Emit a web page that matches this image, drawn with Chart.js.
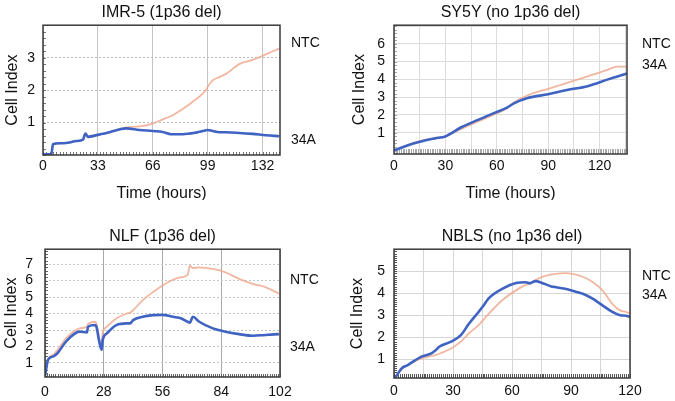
<!DOCTYPE html>
<html>
<head>
<meta charset="utf-8">
<script src="https://cdn.jsdelivr.net/npm/chart.js@4.4.0/dist/chart.umd.min.js"></script>
<style>
  body { margin: 0; background: #fff; }
  #wrap { position: relative; width: 675px; height: 401px; overflow: hidden; }
  canvas { position: absolute; }
</style>
</head>
<body>
<div id="wrap">
  <canvas id="imr" width="337" height="200" style="left:0;top:0"></canvas>
  <canvas id="sy5y" width="338" height="200" style="left:337px;top:0"></canvas>
  <canvas id="nlf" width="337" height="201" style="left:0;top:200px"></canvas>
  <canvas id="nbls" width="338" height="201" style="left:337px;top:200px"></canvas>
</div>
<script>
// IMR-5 (1p36 del)
const imrTime = [0, 5, 6, 10, 15, 20, 24, 25.5, 27, 33, 40, 47, 50, 58, 66, 72, 77, 84, 92, 98, 99, 102, 106, 110, 118, 126, 134, 142];
const imr34A  = [0.02, 0.02, 0.33, 0.36, 0.38, 0.43, 0.47, 0.66, 0.56, 0.62, 0.70, 0.80, 0.82, 0.77, 0.74, 0.71, 0.64, 0.64, 0.69, 0.76, 0.77, 0.74, 0.70, 0.70, 0.68, 0.65, 0.61, 0.58];
const imrNTC  = [0.02, 0.02, 0.33, 0.36, 0.38, 0.43, 0.47, 0.64, 0.56, 0.62, 0.70, 0.82, 0.85, 0.88, 0.97, 1.10, 1.20, 1.42, 1.72, 2.00, 2.10, 2.30, 2.40, 2.50, 2.80, 2.93, 3.10, 3.28];
const imrXTicks = [0, 33, 66, 99, 132];
const imrYTicks = [1, 2, 3];

// SY5Y (no 1p36 del)
const syTime = [0, 7, 14, 24, 30, 39, 49, 59, 66, 70, 78, 90, 101, 113, 125, 130, 136];
const sy34A  = [0.0, 0.25, 0.46, 0.68, 0.79, 1.29, 1.72, 2.13, 2.41, 2.65, 2.95, 3.16, 3.40, 3.62, 4.00, 4.15, 4.33];
const syNTC  = [0.0, 0.28, 0.50, 0.70, 0.80, 1.20, 1.63, 2.05, 2.38, 2.70, 3.10, 3.47, 3.80, 4.17, 4.55, 4.72, 4.72];
const syXTicks = [0, 30, 60, 90, 120];
const syYTicks = [1, 2, 3, 4, 5, 6];

// NLF (1p36 del)
const nlfTime = [0, 1.5, 4, 6, 10, 16.5, 20, 20.5, 24, 24.5, 26, 27, 27.5, 29.5, 34, 39, 40.5, 42, 46.5, 51.5, 56, 61, 65, 68, 69, 70.5, 73.5, 80, 86, 92.5, 99, 105, 111.5];
const nlf34A  = [0.2, 1.2, 1.4, 1.6, 2.3, 2.9, 2.85, 3.2, 3.3, 3.2, 2.2, 1.8, 2.4, 2.8, 3.3, 3.4, 3.4, 3.6, 3.8, 3.9, 3.92, 3.8, 3.7, 3.5, 3.45, 3.8, 3.5, 3.1, 2.9, 2.75, 2.65, 2.7, 2.75];
const nlfNTC  = [0.2, 1.25, 1.5, 1.8, 2.5, 3.1, 3.2, 3.35, 3.5, 3.4, 2.4, 2.2, 2.8, 3.2, 3.7, 4.0, 4.05, 4.2, 4.8, 5.3, 5.7, 6.05, 6.2, 6.35, 6.9, 6.75, 6.8, 6.7, 6.5, 6.1, 5.8, 5.6, 5.2];
const nlfXTicks = [0, 28, 56, 84, 112];
const nlfXLabels = ['0', '28', '56', '84', '102'];
const nlfYTicks = [1, 2, 3, 4, 5, 6, 7];

// NBLS (no 1p36 del)
const nbTime = [0.5, 4, 7, 14, 19, 21, 23, 29, 34, 38, 43, 46, 48, 55, 62, 67, 69, 72, 75, 80, 82, 87, 89, 94, 96, 101, 106, 111, 115, 118, 120];
const nb34A  = [0.14, 0.6, 0.74, 1.12, 1.27, 1.4, 1.57, 1.8, 2.1, 2.6, 3.15, 3.5, 3.76, 4.2, 4.46, 4.5, 4.45, 4.55, 4.48, 4.31, 4.28, 4.2, 4.16, 4.03, 3.98, 3.75, 3.45, 3.15, 3.0, 2.98, 2.92];
const nbNTC  = [0.14, 0.55, 0.75, 1.04, 1.15, 1.19, 1.25, 1.49, 1.8, 2.17, 2.55, 2.85, 3.05, 3.68, 4.13, 4.38, 4.45, 4.6, 4.73, 4.85, 4.88, 4.91, 4.9, 4.81, 4.75, 4.51, 4.13, 3.52, 3.22, 3.15, 3.07];
const nbXTicks = [0, 30, 60, 90, 120];
const nbYTicks = [1, 2, 3, 4, 5];

const ntcColor = 'rgba(240, 170, 145, 0.85)';
const blueColor = '#3f63c2';
Chart.defaults.font.family = '"Liberation Sans", Arial, Helvetica, sans-serif';
Chart.defaults.color = '#111';

function pts(t, v) {
    return t.map((x, i) => ({x: x, y: v[i]}));
}
function steps(a, b, s) {
    const out = [];
    for (let v = a; v <= b + 1e-9; v += s) out.push(+v.toFixed(4));
    return out;
}

// box, minor ticks and the NTC / 34A labels
const frame = {
    id: 'frame',
    beforeDatasetsDraw(chart, args, o) {
        const {ctx, chartArea: a, scales: {x, y}} = chart;
        ctx.save();
        ctx.strokeStyle = o.tickColor;
        ctx.lineWidth = 1;
        ctx.beginPath();
        for (const v of steps(x.min, x.max, o.minorX)) {
            const px = Math.round(x.getPixelForValue(v)) + 0.5;
            ctx.moveTo(px, a.bottom);
            ctx.lineTo(px, a.bottom - o.tickLen);
        }
        for (const v of steps(Math.ceil(y.min / o.minorY) * o.minorY, y.max, o.minorY)) {
            const py = Math.round(y.getPixelForValue(v)) + 0.5;
            ctx.moveTo(a.left, py);
            ctx.lineTo(a.left + 3, py);
        }
        ctx.stroke();
        ctx.restore();
    },
    afterDraw(chart, args, o) {
        const {ctx, chartArea: a, scales: {y}} = chart;
        ctx.save();
        ctx.strokeStyle = '#3a3a3a';
        ctx.lineWidth = 1.5;
        ctx.strokeRect(a.left, a.top, a.right - a.left, a.bottom - a.top);
        ctx.fillStyle = '#111';
        ctx.font = '14px "Liberation Sans", Arial, sans-serif';
        ctx.textBaseline = 'middle';
        o.labels.forEach(l => ctx.fillText(l.text, a.right + o.gap, y.getPixelForValue(l.at)));
        ctx.restore();
    }
};

function panel(id, p) {
    return new Chart(document.getElementById(id), {
        type: 'line',
        data: {
            datasets: [{
                label: '34A',
                data: pts(p.time, p.a34),
                borderColor: blueColor,
                borderWidth: 2.6,
                pointRadius: 0,
                cubicInterpolationMode: 'monotone'
            }, {
                label: 'NTC',
                data: pts(p.time, p.ntc),
                borderColor: ntcColor,
                borderWidth: 1.8,
                pointRadius: 0,
                cubicInterpolationMode: 'monotone'
            }]
        },
        options: {
            responsive: false,
            animation: false,
            events: [],
            layout: {padding: p.pad},
            plugins: {
                legend: {display: false},
                tooltip: {enabled: false},
                title: {
                    display: true, text: p.title, fullSize: false,
                    font: {size: 16, weight: 'normal'}, color: '#111',
                    padding: {top: 3, bottom: 3}
                },
                frame: p.frame
            },
            scales: {
                x: {
                    type: 'linear', min: 0, max: p.xMax,
                    afterBuildTicks: s => { s.ticks = p.xGrid.map(v => ({value: v})); },
                    afterFit: s => { s.height = p.xh; },
                    ticks: {
                        autoSkip: false, maxRotation: 0, padding: p.xPad,
                        font: {size: 14},
                        callback: v => {
                            const i = p.xTicks.indexOf(v);
                            return i < 0 ? '' : p.xLabels[i];
                        }
                    },
                    grid: {color: p.xGridColor, drawTicks: false},
                    border: {display: false, dash: p.xDash},
                    title: {
                        display: p.xTitle, text: 'Time (hours)',
                        font: {size: 16}, padding: {top: 0, bottom: -3}
                    }
                },
                y: {
                    type: 'linear', min: p.yMin, max: p.yMax,
                    afterBuildTicks: s => { s.ticks = p.yGrid.map(v => ({value: v})); },
                    afterFit: s => { s.width = p.yw; },
                    ticks: {
                        autoSkip: false, padding: p.yPad,
                        font: {size: 14},
                        callback: v => p.yTicks.includes(v) ? String(v) : ''
                    },
                    grid: {color: p.yGridColor, drawTicks: false},
                    border: {display: false, dash: p.yDash},
                    title: {
                        display: true, text: 'Cell Index',
                        font: {size: 16}, padding: {top: p.yTitlePad, bottom: 0}
                    }
                }
            }
        },
        plugins: [frame]
    });
}

panel('imr', {
    title: 'IMR-5 (1p36 del)',
    time: imrTime, a34: imr34A, ntc: imrNTC,
    xMax: 142.5, xGrid: imrXTicks, xTicks: imrXTicks, xLabels: imrXTicks.map(String),
    yMin: 0, yMax: 4, yGrid: imrYTicks, yTicks: imrYTicks,
    pad: {left: 0, right: 57, top: 0, bottom: 0},
    xh: 45, yw: 43, xPad: 3, yPad: 8, yTitlePad: 3, xTitle: true,
    xGridColor: '#c4c4c4', yGridColor: '#bdbdbd', xDash: [], yDash: [2, 2],
    frame: {minorX: 2, minorY: 0.2, tickLen: 3, tickColor: '#777', gap: 11,
        labels: [{text: 'NTC', at: 3.45}, {text: '34A', at: 0.47}]}
});

panel('sy5y', {
    title: 'SY5Y (no 1p36 del)',
    time: syTime, a34: sy34A, ntc: syNTC,
    xMax: 136, xGrid: steps(0, 135, 15), xTicks: syXTicks, xLabels: syXTicks.map(String),
    yMin: -0.2, yMax: 7.05, yGrid: steps(1, 7, 1), yTicks: syYTicks,
    pad: {left: 0, right: 48, top: 0, bottom: 0},
    xh: 46, yw: 57, xPad: 4, yPad: 9, yTitlePad: 13, xTitle: true,
    xGridColor: '#dcdcdc', yGridColor: '#dcdcdc', xDash: [], yDash: [],
    frame: {minorX: 1, minorY: 0.2, tickLen: 5, tickColor: '#a8a8a8', gap: 15,
        labels: [{text: 'NTC', at: 6.0}, {text: '34A', at: 4.78}]}
});

panel('nlf', {
    title: 'NLF (1p36 del)',
    time: nlfTime, a34: nlf34A, ntc: nlfNTC,
    xMax: 112, xGrid: nlfXTicks, xTicks: nlfXTicks, xLabels: nlfXLabels,
    yMin: 0.15, yMax: 7.9, yGrid: nlfYTicks, yTicks: nlfYTicks,
    pad: {left: 0, right: 57, top: 24, bottom: 0},
    xh: 24, yw: 45, xPad: 7, yPad: 12, yTitlePad: 2, xTitle: false,
    xGridColor: '#a9a9a9', yGridColor: '#c6c6c6', xDash: [], yDash: [2, 2],
    frame: {minorX: 1, minorY: 0.2, tickLen: 3, tickColor: '#666', gap: 10,
        labels: [{text: 'NTC', at: 6.0}, {text: '34A', at: 1.98}]}
});

panel('nbls', {
    title: 'NBLS (no 1p36 del)',
    time: nbTime, a34: nb34A, ntc: nbNTC,
    xMax: 120, xGrid: steps(0, 120, 15), xTicks: nbXTicks, xLabels: nbXTicks.map(String),
    yMin: 0.15, yMax: 6, yGrid: steps(1, 5, 1), yTicks: nbYTicks,
    pad: {left: 0, right: 45, top: 24, bottom: 0},
    xh: 23, yw: 57, xPad: 5, yPad: 9, yTitlePad: 11, xTitle: false,
    xGridColor: '#d6d6d6', yGridColor: '#d6d6d6', xDash: [], yDash: [],
    frame: {minorX: 1, minorY: 0.1, tickLen: 4, tickColor: '#555', gap: 12,
        labels: [{text: 'NTC', at: 4.76}, {text: '34A', at: 3.9}]}
});
</script>
</body>
</html>
